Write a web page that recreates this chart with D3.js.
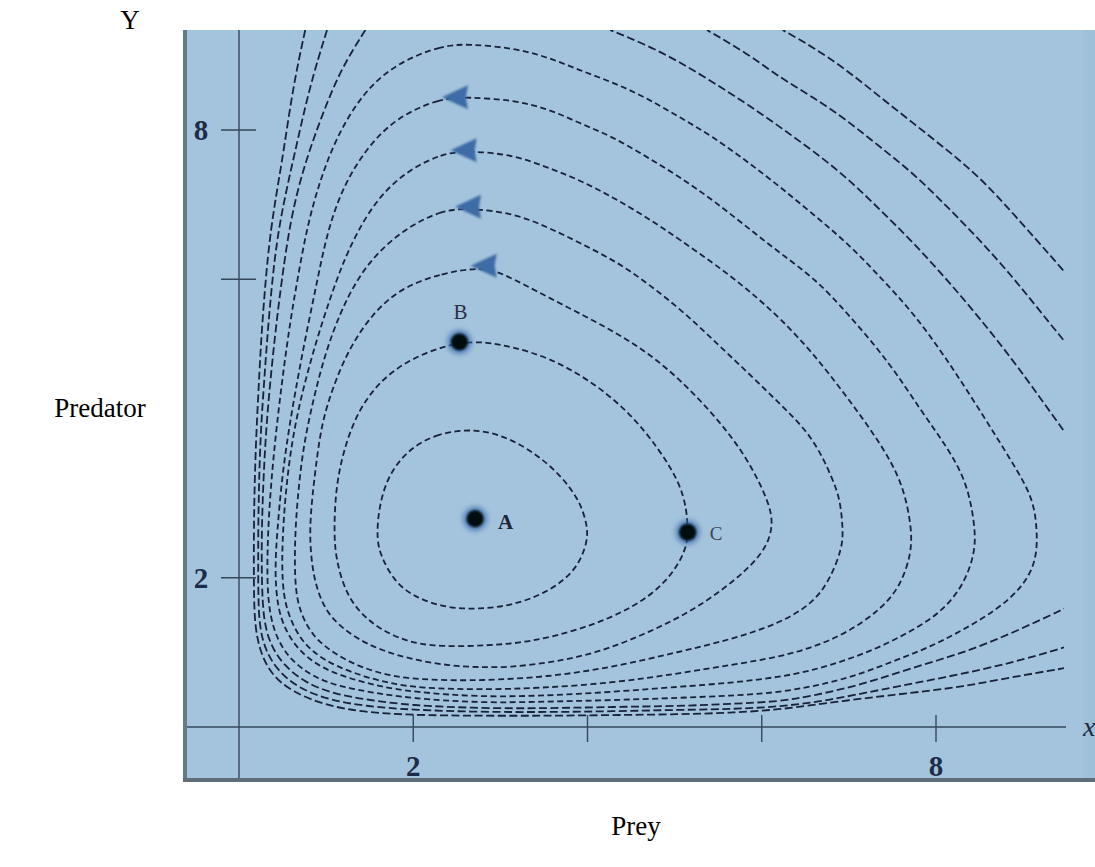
<!DOCTYPE html>
<html><head><meta charset="utf-8">
<script src="https://cdn.jsdelivr.net/npm/d3@7"></script>
<style>html,body{margin:0;padding:0;background:#fff;}svg{display:block;}</style>
</head><body>
<svg id="chart" width="1095" height="867"></svg>
<script>
// ---------- data (prey x, predator y) ----------
const xTickValues = [2, 4, 6, 8];
const xTickLabels = ["2", "", "", "8"];
const yTickValues = [2, 6, 8];
const yTickLabels = ["2", "", "8"];

// closed orbits around the equilibrium, inner to outer
const orbit1 = [[2.77,4.01],[2.27,3.94],[1.93,3.71],[1.70,3.35],[1.60,2.91],[1.58,2.51],[1.63,2.29],[1.77,1.97],[2.00,1.74],[2.39,1.59],[2.77,1.58],[3.14,1.63],[3.54,1.80],[3.88,2.10],[4.01,2.51],[3.99,2.73],[3.91,3.04],[3.65,3.44],[3.23,3.81]];
const orbit2 = [[2.85,5.16],[2.50,5.16],[2.00,4.96],[1.62,4.65],[1.35,4.21],[1.19,3.67],[1.11,3.18],[1.09,2.64],[1.11,2.24],[1.24,1.74],[1.47,1.43],[1.77,1.21],[2.16,1.07],[2.88,1.09],[3.34,1.14],[3.91,1.30],[4.49,1.57],[4.91,1.93],[5.14,2.37],[5.15,2.64],[5.14,2.91],[5.06,3.27],[4.83,3.71],[4.49,4.21],[4.03,4.65],[3.54,4.96],[3.14,5.09]];
const orbit3 = [[2.77,6.16],[2.31,6.08],[1.81,5.86],[1.47,5.45],[1.24,5.01],[1.08,4.56],[0.96,4.11],[0.90,3.67],[0.84,3.08],[0.81,2.64],[0.83,2.20],[0.90,1.80],[1.04,1.47],[1.31,1.21],[1.62,1.03],[2.00,0.90],[2.42,0.82],[2.77,0.80],[3.11,0.80],[3.54,0.86],[3.91,0.94],[4.29,1.07],[4.68,1.26],[5.06,1.47],[5.44,1.74],[5.83,2.10],[6.06,2.41],[6.13,2.71],[6.09,3.00],[5.83,3.62],[5.44,4.21],[4.87,4.88],[4.29,5.32],[3.54,5.76],[3.00,6.10]];
const orbit4 = [[2.65,6.95],[2.34,6.93],[1.93,6.70],[1.58,6.35],[1.35,5.99],[1.16,5.55],[0.99,5.01],[0.85,4.38],[0.73,3.71],[0.67,3.04],[0.64,2.51],[0.64,1.88],[0.70,1.53],[0.85,1.21],[1.08,0.99],[1.39,0.80],[1.77,0.67],[2.19,0.63],[2.77,0.62],[3.54,0.67],[4.29,0.80],[5.06,1.01],[5.64,1.17],[6.21,1.39],[6.59,1.66],[6.78,1.97],[6.93,2.41],[6.93,2.68],[6.90,3.04],[6.82,3.31],[6.59,3.89],[6.21,4.33],[5.83,4.76],[5.44,5.19],[5.06,5.61],[4.57,6.05],[4.29,6.26],[3.91,6.49],[3.54,6.70],[3.14,6.89]];
const orbit5 = [[2.65,7.72],[2.31,7.69],[1.81,7.37],[1.47,6.89],[1.24,6.35],[1.12,5.99],[0.96,5.45],[0.79,4.78],[0.65,4.11],[0.56,3.44],[0.51,2.77],[0.49,2.20],[0.51,1.74],[0.59,1.43],[0.73,1.13],[0.96,0.90],[1.31,0.72],[1.70,0.59],[2.08,0.52],[2.77,0.50],[3.45,0.52],[4.29,0.59],[5.06,0.72],[5.64,0.83],[6.21,0.94],[6.59,1.07],[6.98,1.26],[7.36,1.57],[7.59,1.88],[7.72,2.33],[7.72,2.68],[7.62,3.27],[7.36,3.81],[6.98,4.42],[6.59,5.01],[6.21,5.48],[5.87,5.83],[5.56,6.12],[5.06,6.53],[4.68,6.83],[4.29,7.10],[3.91,7.33],[3.54,7.50],[3.14,7.67]];
const orbit6 = [[2.65,8.44],[2.31,8.43],[1.81,8.17],[1.47,7.77],[1.19,7.24],[1.01,6.62],[0.90,5.99],[0.78,5.32],[0.67,4.65],[0.57,3.98],[0.49,3.31],[0.44,2.64],[0.41,2.10],[0.44,1.61],[0.53,1.30],[0.68,1.03],[0.93,0.80],[1.24,0.66],[1.62,0.54],[2.00,0.47],[2.77,0.40],[3.54,0.42],[4.29,0.47],[5.06,0.54],[5.64,0.59],[6.21,0.67],[6.59,0.76],[6.98,0.90],[7.36,1.07],[7.74,1.30],[8.05,1.53],[8.31,1.88],[8.45,2.33],[8.45,2.68],[8.36,3.27],[8.13,3.75],[7.82,4.25],[7.47,4.88],[6.98,5.55],[6.62,6.00],[6.21,6.35],[5.83,6.70],[5.44,7.06],[5.06,7.37],[4.68,7.64],[4.29,7.91],[3.91,8.09],[3.54,8.29],[3.14,8.40]];
const orbit7 = [[2.65,9.15],[2.34,9.14],[1.81,8.90],[1.42,8.50],[1.12,7.91],[0.93,7.33],[0.78,6.70],[0.67,5.99],[0.59,5.45],[0.51,4.78],[0.44,4.11],[0.38,3.44],[0.33,2.64],[0.32,1.88],[0.36,1.47],[0.44,1.17],[0.59,0.90],[0.85,0.67],[1.16,0.54],[1.54,0.46],[1.93,0.39],[2.77,0.32],[3.54,0.34],[4.29,0.36],[5.06,0.39],[5.64,0.42],[6.21,0.46],[6.78,0.59],[7.16,0.72],[7.55,0.90],[7.93,1.07],[8.31,1.30],[8.70,1.57],[9.00,1.88],[9.16,2.24],[9.16,2.68],[9.11,3.08],[8.88,3.54],[8.50,4.25],[8.13,4.92],[7.74,5.55],[7.36,6.03],[6.98,6.49],[6.59,6.87],[6.21,7.24],[5.83,7.58],[5.44,7.91],[5.06,8.17],[4.68,8.43],[4.29,8.64],[3.91,8.80],[3.54,8.98],[3.14,9.10]];

// outer orbits leave the frame: lower-left arc and upper-right arc
const orbit8Low = [[1.45,9.34],[1.16,8.80],[0.93,8.13],[0.73,7.46],[0.59,6.79],[0.49,5.99],[0.42,5.32],[0.36,4.65],[0.31,3.98],[0.28,3.31],[0.26,2.64],[0.26,1.97],[0.28,1.43],[0.36,1.10],[0.51,0.83],[0.76,0.59],[1.10,0.44],[1.50,0.36],[1.96,0.29],[2.77,0.25],[3.54,0.25],[4.29,0.27],[5.06,0.28],[5.64,0.31],[6.21,0.34],[6.59,0.42],[7.16,0.57],[7.74,0.80],[8.31,0.99],[8.88,1.26],[9.48,1.59]];
const orbit8High = [[9.46,3.98],[9.19,4.42],[8.88,4.92],[8.50,5.48],[8.13,5.99],[7.74,6.49],[7.36,6.93],[6.98,7.36],[6.59,7.72],[6.21,8.04],[5.83,8.35],[5.44,8.64],[5.06,8.91],[4.68,9.14],[4.26,9.34]];
const orbit9Low = [[1.01,9.34],[0.81,8.58],[0.64,7.69],[0.51,7.02],[0.41,6.35],[0.33,5.32],[0.29,4.65],[0.25,3.98],[0.23,3.31],[0.22,2.64],[0.22,1.84],[0.23,1.37],[0.30,1.03],[0.44,0.76],[0.68,0.52],[1.04,0.36],[1.45,0.28],[1.96,0.23],[2.77,0.20],[3.54,0.20],[4.29,0.21],[5.06,0.23],[5.64,0.24],[6.21,0.27],[6.78,0.36],[7.36,0.50],[8.13,0.67],[8.88,0.86],[9.48,1.07]];
const orbit9High = [[9.46,5.19],[9.14,5.65],[8.88,6.03],[8.50,6.53],[8.13,6.97],[7.74,7.42],[7.36,7.77],[6.98,8.13],[6.59,8.44],[6.21,8.70],[5.83,9.03],[5.37,9.34]];
const orbit10Low = [[0.76,9.34],[0.62,8.58],[0.51,7.69],[0.41,7.02],[0.33,6.35],[0.26,5.32],[0.23,4.65],[0.20,3.98],[0.18,3.31],[0.17,2.64],[0.17,1.84],[0.18,1.37],[0.24,1.01],[0.37,0.70],[0.61,0.47],[0.99,0.29],[1.42,0.20],[1.96,0.16],[2.77,0.15],[3.54,0.15],[4.29,0.16],[5.06,0.17],[5.64,0.19],[6.21,0.23],[6.98,0.36],[7.74,0.46],[8.31,0.54],[8.88,0.67],[9.48,0.79]];
const orbit10High = [[9.46,6.12],[8.88,6.89],[8.50,7.37],[8.13,7.73],[7.74,8.09],[7.36,8.44],[6.98,8.80],[6.59,9.11],[6.24,9.34]];

const closedOrbits = [orbit1, orbit2, orbit3, orbit4, orbit5, orbit6, orbit7];
const openArcs = [orbit8Low, orbit8High, orbit9Low, orbit9High, orbit10Low, orbit10High];

// direction arrows (on orbits 6,5,4,3 near their tops)
const arrowPoints = [[2.49,8.44],[2.59,7.73],[2.64,6.97],[2.82,6.18]];

// labelled states
const stateNames = ["A", "B", "C"];
const stateX = [2.71, 2.53, 5.15];
const stateY = [2.79, 5.16, 2.61];

// ---------- layout ----------
const svg = d3.select("#chart");
const x = d3.scaleLinear().domain([0, 8]).range([239, 936]);
const y = d3.scaleLinear().domain([0, 8]).range([727, 130]);
const panel = {x0: 183, y0: 30, x1: 1095, y1: 782};
const curveClipRight = 1064;
const serif = "'Liberation Serif','Times New Roman',serif";
const ink = "#18223a";

const defs = svg.append("defs");
defs.append("clipPath").attr("id","clipCurves").append("rect")
  .attr("x", panel.x0 + 3).attr("y", panel.y0)
  .attr("width", curveClipRight - panel.x0 - 3).attr("height", panel.y1 - panel.y0 - 3);
const blur = defs.append("filter").attr("id","soft").attr("x","-50%").attr("y","-50%").attr("width","200%").attr("height","200%");
blur.append("feGaussianBlur").attr("stdDeviation", 2.4);
const blur2 = defs.append("filter").attr("id","soft2").attr("x","-50%").attr("y","-50%").attr("width","200%").attr("height","200%");
blur2.append("feGaussianBlur").attr("stdDeviation", 0.9);

// panel
svg.append("rect").attr("x", panel.x0).attr("y", panel.y0)
  .attr("width", panel.x1 - panel.x0).attr("height", panel.y1 - panel.y0)
  .attr("fill", "#a4c3dc");
svg.append("rect").attr("x", 1083).attr("y", panel.y0).attr("width", panel.x1 - 1083).attr("height", panel.y1 - panel.y0)
  .attr("fill", "#9ec0d9");
svg.append("rect").attr("x", panel.x0).attr("y", panel.y0).attr("width", 4).attr("height", panel.y1 - panel.y0)
  .attr("fill", "#627a8e");
svg.append("rect").attr("x", panel.x0).attr("y", panel.y1 - 4).attr("width", panel.x1 - panel.x0).attr("height", 4)
  .attr("fill", "#5e6d7a");

// axes
const axisColor = "#34475c";
svg.append("line").attr("x1", panel.x0 + 4).attr("x2", curveClipRight + 2)
  .attr("y1", y(0)).attr("y2", y(0)).attr("stroke", axisColor).attr("stroke-width", 1.4);
svg.append("line").attr("x1", x(0)).attr("x2", x(0))
  .attr("y1", panel.y0).attr("y2", panel.y1 - 4).attr("stroke", axisColor).attr("stroke-width", 1.4);

svg.selectAll(".xtick").data(xTickValues).join("line")
  .attr("x1", d => x(d)).attr("x2", d => x(d))
  .attr("y1", y(0) - 12).attr("y2", y(0) + 15)
  .attr("stroke", axisColor).attr("stroke-width", 1.4);
svg.selectAll(".xlab").data(xTickValues).join("text")
  .attr("x", d => x(d)).attr("y", y(0) + 49)
  .attr("text-anchor", "middle").attr("font-family", serif).attr("font-weight", "bold")
  .attr("font-size", 29).attr("fill", "#1d2d48")
  .text((d, i) => xTickLabels[i]);
svg.selectAll(".ytick").data(yTickValues).join("line")
  .attr("x1", x(0) - 18).attr("x2", x(0) + 17)
  .attr("y1", d => y(d)).attr("y2", d => y(d))
  .attr("stroke", axisColor).attr("stroke-width", 1.4);
svg.selectAll(".ylab").data(yTickValues).join("text")
  .attr("x", x(0) - 38).attr("y", d => y(d) + 10)
  .attr("text-anchor", "middle").attr("font-family", serif).attr("font-weight", "bold")
  .attr("font-size", 29).attr("fill", "#1d2d48")
  .text((d, i) => yTickLabels[i]);

// orbits (smoothed through the read points)
const gCurves = svg.append("g").attr("clip-path", "url(#clipCurves)");
const lineClosed = d3.line().x(d => x(d[0])).y(d => y(d[1])).curve(d3.curveBasisClosed);
const lineOpen = d3.line().x(d => x(d[0])).y(d => y(d[1])).curve(d3.curveBasis);
gCurves.selectAll(".orbit").data(closedOrbits).join("path")
  .attr("d", lineClosed).attr("fill", "none").attr("stroke", ink)
  .attr("stroke-width", 1.8).attr("stroke-dasharray", "6 3.5");
gCurves.selectAll(".arc").data(openArcs).join("path")
  .attr("d", lineOpen).attr("fill", "none").attr("stroke", ink)
  .attr("stroke-width", 1.8).attr("stroke-dasharray", "8 3.5");

// arrows
svg.selectAll(".arrow").data(arrowPoints).join("path")
  .attr("transform", d => `translate(${x(d[0])},${y(d[1])})`)
  .attr("d", "M-14,0 L12,-12 L10,0 L12,12 Z")
  .attr("fill", "#3d6ca6").attr("filter", "url(#soft2)");

// states
const gStates = svg.append("g");
stateNames.forEach((n, i) => {
  gStates.append("circle").attr("cx", x(stateX[i])).attr("cy", y(stateY[i])).attr("r", 12)
    .attr("fill", "#3e6fb0").attr("opacity", 0.8).attr("filter", "url(#soft)");
  gStates.append("circle").attr("cx", x(stateX[i])).attr("cy", y(stateY[i])).attr("r", 8.5)
    .attr("fill", "#05070c").attr("filter", "url(#soft2)");
});
gStates.append("text").attr("x", x(stateX[0]) + 23).attr("y", y(stateY[0]) + 10)
  .attr("font-family", serif).attr("font-weight", "bold").attr("font-size", 21).attr("fill", "#1b2438")
  .attr("text-anchor", "start").text(stateNames[0]);
gStates.append("text").attr("x", x(stateX[1]) + 1).attr("y", y(stateY[1]) - 23)
  .attr("font-family", serif).attr("font-size", 21).attr("fill", "#2a3242")
  .attr("text-anchor", "middle").text(stateNames[1]);
gStates.append("text").attr("x", x(stateX[2]) + 22).attr("y", y(stateY[2]) + 8)
  .attr("font-family", serif).attr("font-size", 19).attr("fill", "#3b4656")
  .attr("text-anchor", "start").text(stateNames[2]);

// axis titles
svg.append("text").attr("x", 130).attr("y", 29).attr("text-anchor", "middle")
  .attr("font-family", serif).attr("font-size", 27).attr("fill", "#000").text("Y");
svg.append("text").attr("x", 100).attr("y", 417).attr("text-anchor", "middle")
  .attr("font-family", serif).attr("font-size", 27).attr("fill", "#000").text("Predator");
svg.append("text").attr("x", 636).attr("y", 835).attr("text-anchor", "middle")
  .attr("font-family", serif).attr("font-size", 27).attr("fill", "#000").text("Prey");
svg.append("text").attr("x", 1083).attr("y", 736).attr("text-anchor", "start")
  .attr("font-family", serif).attr("font-style", "italic").attr("font-size", 28).attr("fill", "#1d2d48").text("x");
</script>
</body></html>
